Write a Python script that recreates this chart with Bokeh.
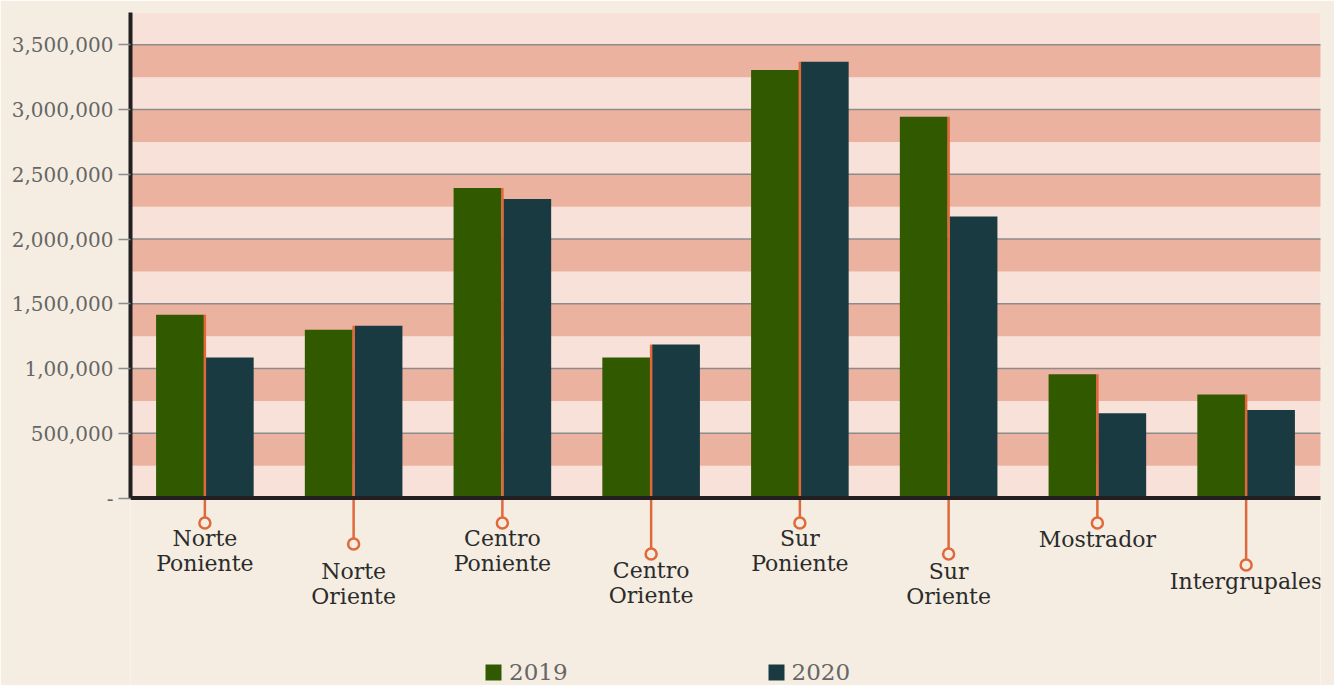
from bokeh.plotting import figure
from bokeh.models import ColumnDataSource, FactorRange, Range1d, BoxAnnotation, FixedTicker
from bokeh.transform import dodge
from bokeh.core.properties import value
from bokeh.embed import file_html
from bokeh.resources import INLINE

# ---------------- data ----------------
categories = ["Norte Poniente", "Norte Oriente", "Centro Poniente", "Centro Oriente",
              "Sur Poniente", "Sur Oriente", "Mostrador", "Intergrupales"]
values_2019 = [1415000, 1300000, 2395000, 1085000, 3305000, 2945000, 955000, 800000]
values_2020 = [1085000, 1330000, 2310000, 1185000, 3370000, 2175000, 655000, 680000]
series_names = ["2019", "2020"]
tick_values = [0, 500000, 1000000, 1500000, 2000000, 2500000, 3000000, 3500000]
tick_labels = ["-", "500,000", "1,00,000", "1,500,000", "2,000,000", "2,500,000", "3,000,000", "3,500,000"]

# ---------------- style / layout ----------------
BG = "#F5EDE1"
BAND_LIGHT = "#F8E1D9"
BAND_DARK = "#ECB2A0"
GRID = "#8C8C8C"
AXIS = "#231F20"
GREEN = "#315900"
TEAL = "#1A3A42"
ORANGE = "#E0693C"
FONT = "DejaVu Serif"

W, H = 1334, 685
FRAME_LEFT, FRAME_TOP, FRAME_RIGHT_GAP = 130, 12, 14
FRAME_H = H - FRAME_TOP
Y_TOP = 3750000
ZERO_PX = 485.5                      # pixels from frame top down to value 0
UPP = Y_TOP / ZERO_PX                # data units per pixel
Y_START = -(FRAME_H - ZERO_PX) * UPP

circle_drop_px = [25, 46, 25, 56, 25, 56, 25, 67]
label_drop_px = [28, 61, 28, 60, 28, 61, 29, 71]

labels = [c.replace(" ", "\n", 1) for c in categories]
tops = [max(a, b) for a, b in zip(values_2019, values_2020)]

src = ColumnDataSource(dict(
    cat=categories,
    y2019=values_2019,
    y2020=values_2020,
    top=tops,
    label=labels,
    circ_y=[-d * UPP for d in circle_drop_px],
    text_y=[-d * UPP for d in label_drop_px],
))

p = figure(width=W, height=H,
           x_range=FactorRange(*categories),
           y_range=Range1d(Y_START, Y_TOP),
           x_axis_location=None,
           output_backend="svg", toolbar_location=None,
           min_border_left=FRAME_LEFT, min_border_right=FRAME_RIGHT_GAP,
           min_border_top=FRAME_TOP, min_border_bottom=0,
           background_fill_color=BG, border_fill_color=BG,
           outline_line_color=None)

# alternating horizontal bands (250k each), reaching the right edge of the canvas
n_bands = int(Y_TOP // 250000)
for k in range(n_bands):
    p.add_layout(BoxAnnotation(bottom=k * 250000, top=(k + 1) * 250000,
                               right=W, right_units="canvas",
                               fill_color=BAND_LIGHT if k % 2 == 0 else BAND_DARK,
                               fill_alpha=1, line_color=None, level="image"))

# horizontal grid lines
p.xgrid.visible = False
p.ygrid.visible = False
for v in tick_values[1:]:
    p.add_layout(BoxAnnotation(bottom=v, top=v, right=W, right_units="canvas",
                               fill_alpha=0, line_color=GRID, line_alpha=1,
                               line_width=1.5, level="underlay"))

yax = p.yaxis[0]
yax.ticker = FixedTicker(ticks=tick_values)
yax.major_label_overrides = {v: l for v, l in zip(tick_values, tick_labels)}
yax.bounds = (0, Y_TOP)
yax.axis_line_color = AXIS
yax.axis_line_width = 4
yax.major_tick_line_color = GRID
yax.major_tick_line_width = 1.5
yax.major_tick_out = 12
yax.major_tick_in = 0
yax.minor_tick_line_color = None
yax.major_label_text_font = FONT
yax.major_label_text_font_size = "20px"
yax.major_label_text_color = "#666666"
yax.major_label_standoff = 5

p.vbar(x=dodge("cat", -0.167, range=p.x_range), top="y2019", width=0.322, source=src,
       fill_color=GREEN, line_color=None, legend_label=series_names[0])
p.vbar(x=dodge("cat", 0.167, range=p.x_range), top="y2020", width=0.322, source=src,
       fill_color=TEAL, line_color=None, legend_label=series_names[1])

# x axis line at zero
p.add_layout(BoxAnnotation(bottom=0, top=0, right=W, right_units="canvas",
                           fill_alpha=0, line_color=AXIS, line_alpha=1, line_width=4))

p.segment(x0="cat", y0="top", x1="cat", y1="circ_y", source=src,
          line_color=ORANGE, line_width=2.5)
p.scatter(x="cat", y="circ_y", source=src, size=11, marker="circle",
          line_color=ORANGE, line_width=2.5, fill_color=BG)
p.text(x="cat", y="text_y", text="label", source=src,
       text_align="center", text_baseline="top",
       text_font=value(FONT), text_font_size="22px", text_color="#2B2B2B",
       text_line_height=1.0)

lg = p.legend[0]
lg.location = (353, 0)
lg.orientation = "horizontal"
lg.padding = 0
lg.margin = 0
lg.spacing = 198
lg.glyph_width = 20
lg.glyph_height = 20
lg.label_standoff = 6
lg.border_line_color = None
lg.background_fill_alpha = 0
lg.label_text_font = FONT
lg.label_text_font_size = "23px"
lg.label_text_color = "#666666"

open("out.html", "w").write(file_html(p, INLINE))
